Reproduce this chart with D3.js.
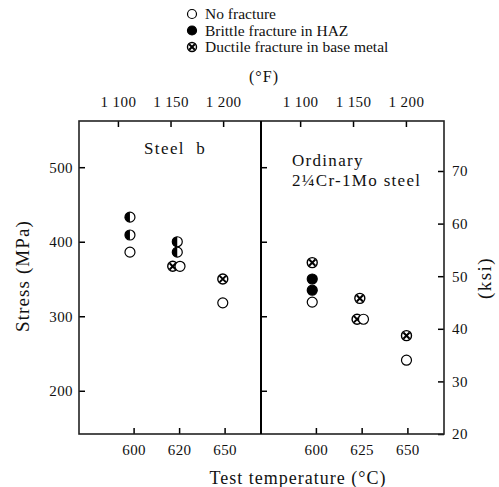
<!DOCTYPE html>
<html>
<head>
<meta charset="utf-8">
<script src="https://cdn.jsdelivr.net/npm/d3@7"></script>
<style>
  body { margin: 0; background: #fff; }
  svg text { font-family: "Liberation Serif", "Times New Roman", serif; fill: #111; }
</style>
</head>
<body>
<script>
// data
var steelBTemp   = [598, 598, 598, 624, 624, 621.5, 625.5, 649, 649];
var steelBStress = [433, 409, 386, 400, 386, 367, 367, 350, 318];
var steelBType   = ["half", "half", "open", "half", "half", "ductile", "open", "ductile", "open"];

var ordTemp   = [598, 598, 598, 598, 624, 622.5, 626, 649.5, 649.5];
var ordStress = [372, 350, 335, 319, 324, 296, 296, 274, 241];
var ordType   = ["ductile", "brittle", "brittle", "open", "ductile", "ductile", "open", "ductile", "open"];

var mpaTicks = [200, 300, 400, 500];
var ksiTicks = [20, 30, 40, 50, 60, 70];
var degFTicks = [1100, 1150, 1200];
var degFLabels = ["1 100", "1 150", "1 200"];
var degCTicks = [600, 625, 650];
var steelBCLabels = ["600", "620", "650"];
var ordCLabels = ["600", "625", "650"];

var legendTypes = ["open", "brittle", "ductile"];
var legendLabels = ["No fracture", "Brittle fracture in HAZ", "Ductile fracture in base metal"];

var svg = d3.select("body").append("svg")
  .attr("width", 499)
  .attr("height", 487)
  .attr("font-family", "Liberation Serif");

var frame = {left: 79, mid: 261, right: 444, top: 121, bottom: 434};

var y = d3.scaleLinear().domain([142, 562]).range([frame.bottom, frame.top]);
var yKsi = d3.scaleLinear().domain([20, 70]).range([frame.bottom, 171]);

var panels = [
  {x0: frame.left, x1: frame.mid, temp: steelBTemp, stress: steelBStress, type: steelBType, cLabels: steelBCLabels},
  {x0: frame.mid, x1: frame.right, temp: ordTemp, stress: ordStress, type: ordType, cLabels: ordCLabels}
];

function marker(g, type, r) {
  if (type == "brittle") {
    g.append("circle").attr("r", r).attr("fill", "#000").attr("stroke", "#000").attr("stroke-width", 1.2);
  } else if (type == "half") {
    g.append("circle").attr("r", r).attr("fill", "#fff").attr("stroke", "#000").attr("stroke-width", 1.2);
    g.append("path")
      .attr("d", "M0," + (-r) + "A" + r + "," + r + " 0 0,0 0," + r + "Z")
      .attr("fill", "#000");
  } else if (type == "ductile") {
    g.append("circle").attr("r", r).attr("fill", "#fff").attr("stroke", "#000").attr("stroke-width", 1.4);
    var k = r * 0.62;
    g.append("path")
      .attr("d", "M" + (-k) + "," + (-k) + "L" + k + "," + k + "M" + k + "," + (-k) + "L" + (-k) + "," + k)
      .attr("stroke", "#000").attr("stroke-width", 2);
  } else {
    g.append("circle").attr("r", r).attr("fill", "#fff").attr("stroke", "#000").attr("stroke-width", 1.2);
  }
}

panels.forEach(function(p, i) {
  var x = d3.scaleLinear().domain([570, 670]).range([p.x0, p.x1]);
  var xF = d3.scaleLinear().domain([1063, 1236]).range([p.x0, p.x1]);

  // bottom °C axis, ticks pointing in
  var bAxis = svg.append("g")
    .attr("transform", "translate(0," + frame.bottom + ")")
    .call(d3.axisBottom(x).tickValues(degCTicks).tickSizeInner(-6).tickSizeOuter(0)
      .tickPadding(10).tickFormat(function(d, j) { return p.cLabels[j]; }));
  bAxis.select(".domain").remove();

  // top °F axis, ticks pointing in
  var tAxis = svg.append("g")
    .attr("transform", "translate(0," + frame.top + ")")
    .call(d3.axisTop(xF).tickValues(degFTicks).tickSizeInner(-6).tickSizeOuter(0)
      .tickPadding(14).tickFormat(function(d, j) { return degFLabels[j]; }));
  tAxis.select(".domain").remove();

  // stress ticks on the panel's left edge
  var lAxis = svg.append("g")
    .attr("transform", "translate(" + p.x0 + ",0)")
    .call(d3.axisLeft(y).tickValues(mpaTicks).tickSizeInner(-6).tickSizeOuter(0)
      .tickPadding(6).tickFormat(i == 0 ? d3.format("d") : ""));
  lAxis.select(".domain").remove();

  var pts = svg.append("g");
  p.temp.forEach(function(t, j) {
    var g = pts.append("g").attr("transform", "translate(" + x(t) + "," + y(p.stress[j]) + ")");
    marker(g, p.type[j], 5);
  });
});

// ksi axis on the right
var rAxis = svg.append("g")
  .attr("transform", "translate(" + frame.right + ",0)")
  .call(d3.axisRight(yKsi).tickValues(ksiTicks).tickSizeInner(-6).tickSizeOuter(0).tickPadding(8));
rAxis.select(".domain").remove();

svg.selectAll(".tick text")
  .attr("font-family", "Liberation Serif")
  .style("font-family", "'Liberation Serif', serif")
  .style("font-size", "15px").style("letter-spacing", "0.4px").attr("fill", "#111");
svg.selectAll(".tick line").attr("stroke", "#000").attr("stroke-width", 1.5);

// frame
svg.append("rect")
  .attr("x", frame.left).attr("y", frame.top)
  .attr("width", frame.right - frame.left).attr("height", frame.bottom - frame.top)
  .attr("fill", "none").attr("stroke", "#222").attr("stroke-width", 1.6);
svg.append("line")
  .attr("x1", frame.mid).attr("x2", frame.mid).attr("y1", frame.top).attr("y2", frame.bottom)
  .attr("stroke", "#000").attr("stroke-width", 2);

// panel labels
svg.append("text").attr("x", 144).attr("y", 154).style("font-size", "17px")
  .style("letter-spacing", "1.4px").style("white-space", "pre").text("Steel  b");
svg.append("text").attr("x", 292).attr("y", 166).style("font-size", "17px")
  .style("letter-spacing", "1.3px").text("Ordinary");
svg.append("text").attr("x", 292).attr("y", 186).style("font-size", "17px")
  .style("letter-spacing", "1.3px").text("2\u00BCCr-1Mo steel");

// axis titles
svg.append("text").attr("x", 264).attr("y", 82).attr("text-anchor", "middle")
  .style("font-size", "16px").style("letter-spacing", "1px").text("(\u00B0F)");
svg.append("text").attr("x", 298).attr("y", 484).attr("text-anchor", "middle")
  .style("font-size", "18px").style("letter-spacing", "1px").text("Test temperature (\u00B0C)");
svg.append("text").attr("transform", "translate(29,276) rotate(-90)").attr("text-anchor", "middle")
  .style("font-size", "19px").style("letter-spacing", "1.1px").text("Stress (MPa)");
svg.append("text").attr("transform", "translate(491,278) rotate(-90)").attr("text-anchor", "middle")
  .style("font-size", "19px").style("letter-spacing", "1.4px").text("(ksi)");

// legend
var legend = svg.append("g");
legendTypes.forEach(function(t, i) {
  var g = legend.append("g").attr("transform", "translate(192," + (14 + i * 16.5) + ")");
  marker(g, t, 4.5);
  legend.append("text").attr("x", 205).attr("y", 19 + i * 16.5)
    .style("font-size", "15.5px").text(legendLabels[i]);
});
</script>
</body>
</html>
